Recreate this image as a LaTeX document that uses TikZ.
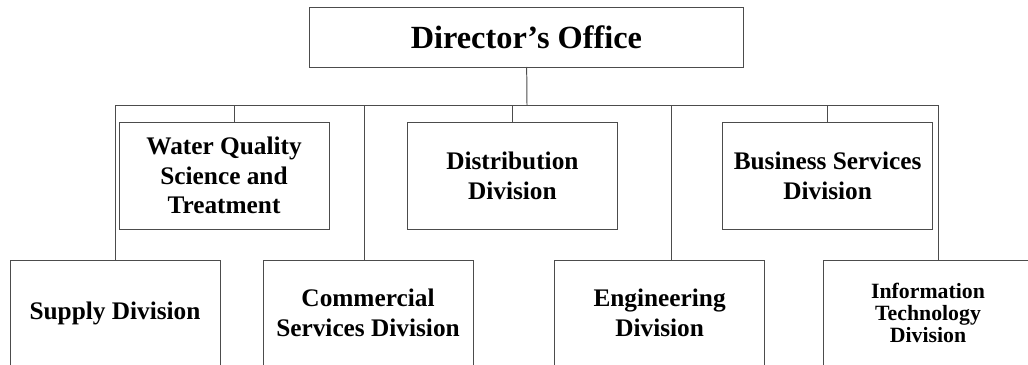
\documentclass[tikz,border=0pt]{standalone}
\usepackage{fontspec}
\setmainfont{Liberation Serif}
\begin{document}
\begin{tikzpicture}[
  block/.style={rectangle, draw=black!70, line width=0.7pt, minimum width=5.25cm, minimum height=2.675cm, inner sep=2pt, outer sep=0pt, font=\fontsize{18}{21}\selectfont\bfseries, align=center},
  head/.style={block, minimum width=10.83cm, minimum height=1.5cm, font=\fontsize{23}{26}\selectfont\bfseries},
  link/.style={draw=black!70, line width=0.7pt},
  node distance=2cm
]
\clip (0,0) rectangle (25.7,-9.125);

% Top
\node (dir) [head] at (13.16,-0.925) {Director’s Office};

% Middle row
\node (wq) [block] at (5.6,-4.39) {Water Quality\\Science and\\Treatment};
\node (dist) [block, right of=wq, node distance=7.21cm] {Distribution\\Division};
\node (bus) [block, right of=dist, node distance=7.88cm] {Business Services\\Division};

% Bottom row
\node (supply) [block, minimum height=2.65cm] at (2.875,-7.825) {Supply Division};
\node (comm) [block, minimum height=2.65cm, right of=supply, node distance=6.325cm] {Commercial\\Services Division};
\node (eng) [block, minimum height=2.65cm, right of=comm, node distance=7.29cm] {Engineering\\Division};
\node (it) [block, minimum height=2.65cm, right of=eng, node distance=6.71cm, font=\fontsize{15.5}{15.5}\selectfont\bfseries] {Information\\Technology\\Division};

% Connections
\coordinate (hub) at (13.175,-2.625);
\draw[link] (dir) -- (hub);
\draw[link] (supply.north) |- (hub);
\draw[link] (hub) -| ([xshift=0.25cm]it.north);
\draw[link] ([xshift=0.25cm]wq.north) -- ([xshift=0.25cm]wq.north |- hub);
\draw[link] (dist.north) -- (dist.north |- hub);
\draw[link] (bus.north) -- (bus.north |- hub);
\draw[link] ([xshift=-0.1cm]comm.north) -- ([xshift=-0.1cm]comm.north |- hub);
\draw[link] ([xshift=0.29cm]eng.north) -- ([xshift=0.29cm]eng.north |- hub);

\end{tikzpicture}
\end{document}
